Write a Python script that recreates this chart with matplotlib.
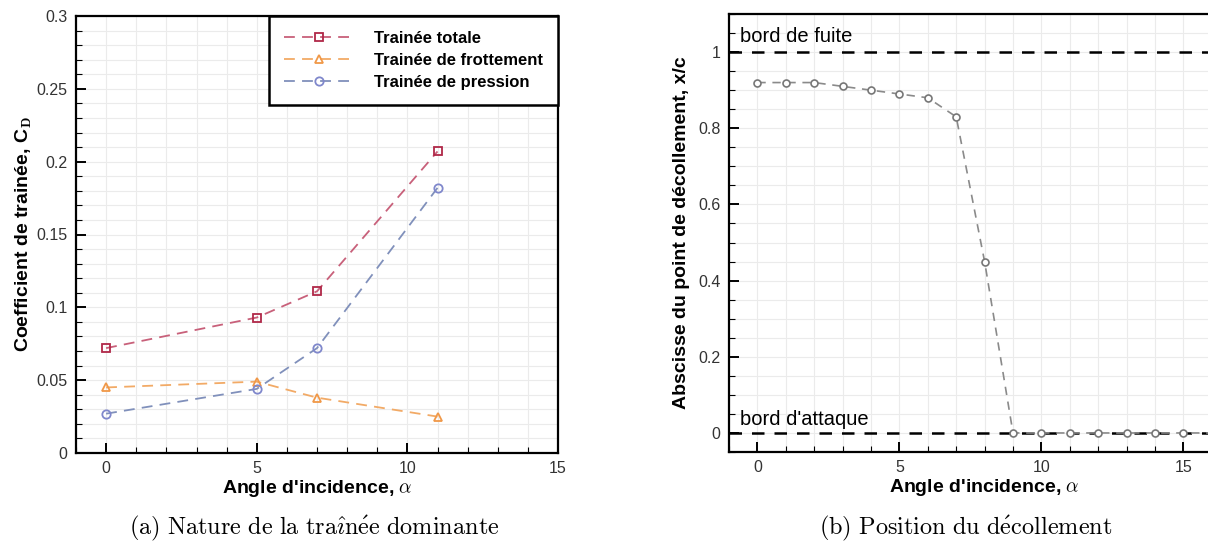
import matplotlib
matplotlib.use('Agg')
import matplotlib.pyplot as plt
from matplotlib.ticker import MultipleLocator

# --- data (a) drag coefficients
alpha_a = [0, 5, 7, 11]
cd_total = [0.072, 0.093, 0.111, 0.207]
cd_friction = [0.045, 0.049, 0.038, 0.025]
cd_pressure = [0.027, 0.044, 0.072, 0.182]

# --- data (b) separation point
alpha_b = [0, 1, 2, 3, 4, 5, 6, 7, 8, 9, 10, 11, 12, 13, 14, 15, 16]
x_sep = [0.92, 0.92, 0.92, 0.91, 0.90, 0.89, 0.88, 0.83, 0.45,
         0, 0, 0, 0, 0, 0, 0, 0]

plt.rcParams['font.family'] = ['Liberation Sans', 'DejaVu Sans']
plt.rcParams['mathtext.fontset'] = 'cm'
W, H = 12.08, 5.56
fig = plt.figure(figsize=(W, H), dpi=100)


def px_axes(x0, y0, x1, y1):
    # pixel box (left, top, right, bottom) -> figure fraction
    return fig.add_axes([x0 / 1208, 1 - y1 / 556, (x1 - x0) / 1208, (y1 - y0) / 556])


def style(ax):
    for s in ax.spines.values():
        s.set_linewidth(1.6)
    ax.tick_params(which='major', direction='in', length=7, width=1.4,
                   labelsize=11.5, labelcolor='#333333', pad=6)
    ax.tick_params(which='minor', direction='in', length=4, width=0.8)
    ax.grid(True, which='both', color='#ebebeb', linewidth=0.8)
    ax.set_axisbelow(True)


label_kw = dict(fontsize=14, fontweight='bold')

# (a)
ax1 = px_axes(76, 16, 558, 453)
style(ax1)
ax1.plot(alpha_a, cd_total, '--', color='#c8607a', lw=1.3, dashes=(6, 4),
         marker='s', ms=6, mfc='none', mec='#b02848', mew=1.3, label='Trainée totale')
ax1.plot(alpha_a, cd_friction, '--', color='#f2aa66', lw=1.3, dashes=(6, 4),
         marker='^', ms=6, mfc='none', mec='#f09848', mew=1.3, label='Trainée de frottement')
ax1.plot(alpha_a, cd_pressure, '--', color='#8090bb', lw=1.3, dashes=(6, 4),
         marker='o', ms=6, mfc='none', mec='#8088cc', mew=1.3, label='Trainée de pression')
ax1.set_xlim(-1, 15)
ax1.set_ylim(0, 0.3)
ax1.xaxis.set_major_locator(MultipleLocator(5))
ax1.xaxis.set_minor_locator(MultipleLocator(1))
ax1.yaxis.set_minor_locator(MultipleLocator(0.01))
ax1.set_yticks([0, 0.05, 0.1, 0.15, 0.2, 0.25, 0.3])
ax1.set_yticklabels(['0', '0.05', '0.1', '0.15', '0.2', '0.25', '0.3'])
ax1.set_xlabel(r"Angle d'incidence, $\alpha$", labelpad=1, **label_kw)
ax1.set_ylabel(r'Coefficient de trainée, C$_\mathbf{D}$', labelpad=2, **label_kw)
leg = ax1.legend(loc='upper right', bbox_to_anchor=(1.0, 1.0), fancybox=False,
                 framealpha=1, edgecolor='black', borderpad=0.9, handlelength=4.2,
                 handletextpad=1.2, prop={'weight': 'bold', 'size': 12},
                 labelspacing=0.42, borderaxespad=0)
leg.get_frame().set_linewidth(1.8)

# (b)
x_lo, x_hi = -1, 17
left_px = 729
unit_px = 28.4
ax2 = px_axes(left_px, 14, left_px + (x_hi - x_lo) * unit_px, 452)
style(ax2)
ax2.axhline(1, color='black', lw=1.8, dashes=(5, 4))
ax2.axhline(0, color='black', lw=1.8, dashes=(5, 4))
ax2.plot(alpha_b, x_sep, '--', color='#8a8a8a', lw=1.2, dashes=(5, 4),
         marker='o', ms=5, mfc='white', mec='#777777', mew=1.2)
ax2.text(-0.6, 1.015, 'bord de fuite', fontsize=14.5, va='bottom')
ax2.text(-0.6, 0.01, "bord d'attaque", fontsize=14.5, va='bottom')
ax2.set_xlim(x_lo, x_hi)
ax2.set_ylim(-0.05, 1.1)
ax2.xaxis.set_major_locator(MultipleLocator(5))
ax2.xaxis.set_minor_locator(MultipleLocator(1))
ax2.set_yticks([0, 0.2, 0.4, 0.6, 0.8, 1])
ax2.set_yticklabels(['0', '0.2', '0.4', '0.6', '0.8', '1'])
ax2.yaxis.set_minor_locator(MultipleLocator(0.05))
ax2.set_xlabel(r"Angle d'incidence, $\alpha$", labelpad=1, **label_kw)
ax2.set_ylabel('Abscisse du point de décollement, x/c', labelpad=6, **label_kw)

# captions
cap_a = r'$\mathrm{(a)\ Nature\ de\ la\ tra\hat{\imath}n\acute{e}e\ dominante}$'
cap_b = r'$\mathrm{(b)\ Position\ du\ d\acute{e}collement}$'
fig.text(314 / 1208, 1 - 528 / 556, cap_a, fontsize=17.5, ha='center', va='center')
fig.text(966 / 1208, 1 - 528 / 556, cap_b, fontsize=17.5, ha='center', va='center')

fig.savefig('out.png', dpi=100, facecolor='white')
